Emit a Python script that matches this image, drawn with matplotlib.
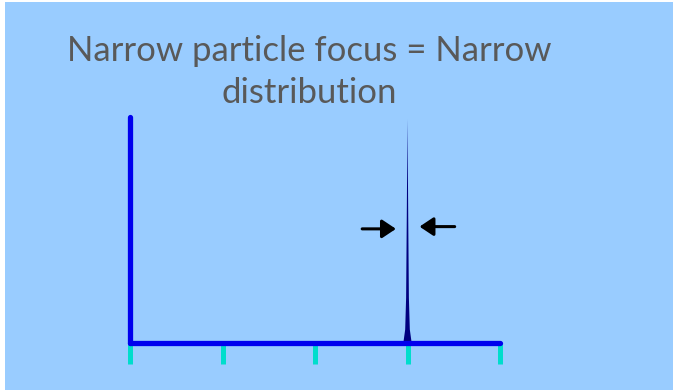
import matplotlib
matplotlib.use('Agg')
import matplotlib.pyplot as plt

# chart values
tick_positions = [0, 1, 2, 3, 4]
peak_x = [2.955, 2.975, 2.985, 2.992, 3.0, 3.008, 3.015, 3.025, 3.045]
peak_y = [0.0, 0.06, 0.2, 0.55, 0.99, 0.55, 0.2, 0.06, 0.0]
arrow_left = [2.51, 2.875, 0.505]   # start x, end x, y
arrow_right = [3.51, 3.13, 0.515]
title = 'Narrow particle focus = Narrow\ndistribution'

bg = '#99ccff'
fig = plt.figure(figsize=(6.73, 3.90), dpi=100, facecolor='white')
# light blue panel with thin white strip at left/top
fig.patches.append(plt.Rectangle((5 / 673, 0), 1, 388 / 390, transform=fig.transFigure,
                                 facecolor=bg, edgecolor='none', zorder=-5))

ax = fig.add_axes([130 / 673, 47 / 390, 370 / 673, 226 / 390])
ax.set_facecolor('none')
ax.set_xlim(0, 4)
ax.set_ylim(0, 1)

for s in ['top', 'right']:
    ax.spines[s].set_visible(False)
for s in ['left', 'bottom']:
    ax.spines[s].set_color('#0000ee')
    ax.spines[s].set_linewidth(3.8)
    ax.spines[s].set_capstyle('round')
    ax.spines[s].set_zorder(3)

ax.set_xticks(tick_positions)
ax.set_xticklabels([])
ax.set_yticks([])
ax.tick_params(axis='x', direction='out', length=15, width=3.6, color='#00ddcc')

ax.fill(peak_x, peak_y, color='#000080', lw=0, zorder=2, clip_on=False)

for a in [arrow_left, arrow_right]:
    ax.annotate('', xy=(a[1], a[2]), xytext=(a[0], a[2]),
                arrowprops=dict(arrowstyle='-|>,head_length=0.6,head_width=0.4',
                                mutation_scale=14, color='black', lw=2.2,
                                shrinkA=0, shrinkB=0))

fig.text(309 / 673, 1 - 72 / 390, title, ha='center', va='center', fontsize=25,
         color='#595959', family='Lato', linespacing=1.38)

fig.savefig('out.png', dpi=100, facecolor='white')
